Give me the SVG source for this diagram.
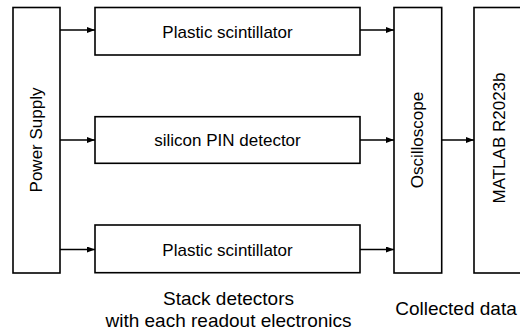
<svg xmlns="http://www.w3.org/2000/svg" width="520" height="333" viewBox="0 0 520 333">
<style>
.box{fill:#fff;stroke:#000;stroke-width:1.6}
.lbl{font-family:"Liberation Sans",Arial,sans-serif;font-size:17px;fill:#000;text-anchor:middle}
.cap{font-family:"Liberation Sans",Arial,sans-serif;font-size:19px;fill:#000;text-anchor:middle}
.con{stroke:#000;stroke-width:1.5;fill:none;marker-end:url(#ah)}
</style>
<defs>
<marker id="ah" viewBox="0 0 8 6" refX="8" refY="3" markerWidth="8" markerHeight="6" markerUnits="userSpaceOnUse" orient="auto">
<path d="M0,0 L8,3 L0,6 Z" fill="#000"/>
</marker>
</defs>
<rect width="520" height="333" fill="#fff"/>
<g id="power">
<rect class="box" x="13" y="7.5" width="47" height="265.5"/>
<text class="lbl" transform="translate(42,140) rotate(-90)">Power Supply</text>
</g>
<g id="ps1">
<rect class="box" x="95" y="7.5" width="265" height="47.5"/>
<text class="lbl" x="227.5" y="38">Plastic scintillator</text>
</g>
<g id="pin">
<rect class="box" x="95" y="116.7" width="265" height="46.6"/>
<text class="lbl" x="227.5" y="146">silicon PIN detector</text>
</g>
<g id="ps2">
<rect class="box" x="95" y="225" width="265" height="47.7"/>
<text class="lbl" x="227.5" y="255.5">Plastic scintillator</text>
</g>
<g id="osc">
<rect class="box" x="394" y="7.5" width="47.7" height="265.5"/>
<text class="lbl" transform="translate(423,140) rotate(-90)">Oscilloscope</text>
</g>
<g id="matlab">
<rect class="box" x="474" y="7.5" width="60" height="265.5"/>
<text class="lbl" transform="translate(505,138) rotate(-90)">MATLAB R2023b</text>
</g>
<g id="connectors">
<line class="con" x1="60" y1="30" x2="95" y2="30"/>
<line class="con" x1="60" y1="140" x2="95" y2="140"/>
<line class="con" x1="60" y1="249.5" x2="95" y2="249.5"/>
<line class="con" x1="360" y1="30" x2="394" y2="30"/>
<line class="con" x1="360" y1="140" x2="394" y2="140"/>
<line class="con" x1="360" y1="249.5" x2="394" y2="249.5"/>
<line class="con" x1="441.7" y1="140" x2="474" y2="140"/>
</g>
<g id="captions">
<text class="cap" x="228.5" y="305">Stack detectors</text>
<text class="cap" x="228.5" y="326.5">with each readout electronics</text>
<text class="cap" x="456" y="315">Collected data</text>
</g>
</svg>
